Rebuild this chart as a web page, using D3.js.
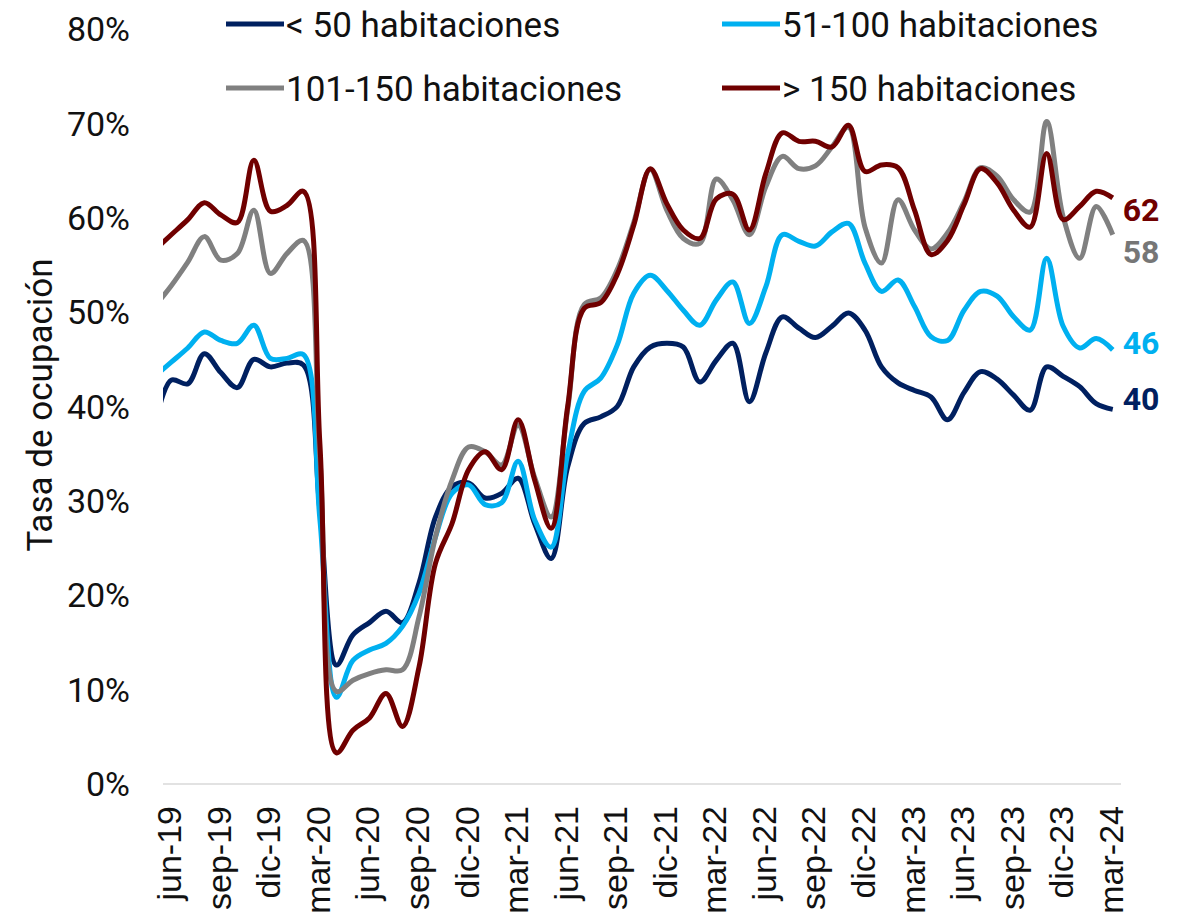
<!DOCTYPE html>
<html><head><meta charset="utf-8">
<script src="https://cdn.jsdelivr.net/npm/d3@7/dist/d3.min.js"></script>
<style>body{margin:0;background:#fff} svg{display:block}</style>
</head><body><svg id="c" width="1181" height="913"></svg>
<script>
const months = ["may-19","jun-19","jul-19","ago-19","sep-19","oct-19","nov-19","dic-19",
"ene-20","feb-20","mar-20","abr-20","may-20","jun-20","jul-20","ago-20","sep-20","oct-20","nov-20","dic-20",
"ene-21","feb-21","mar-21","abr-21","may-21","jun-21","jul-21","ago-21","sep-21","oct-21","nov-21","dic-21",
"ene-22","feb-22","mar-22","abr-22","may-22","jun-22","jul-22","ago-22","sep-22","oct-22","nov-22","dic-22",
"ene-23","feb-23","mar-23","abr-23","may-23","jun-23","jul-23","ago-23","sep-23","oct-23","nov-23","dic-23",
"ene-24","feb-24","mar-24"];
const tickLabels = ["jun-19","sep-19","dic-19","mar-20","jun-20","sep-20","dic-20","mar-21","jun-21","sep-21",
"dic-21","mar-22","jun-22","sep-22","dic-22","mar-23","jun-23","sep-23","dic-23","mar-24"];
const seriesNames = ["< 50 habitaciones","51-100 habitaciones","101-150 habitaciones","> 150 habitaciones"];
const seriesColors = ["#002060","#00B0F0","#808080","#700000"];
const labelColors = ["#002060","#00B0F0","#767676","#700000"];

const lt50 = [38.0,42.8,42.4,45.6,43.6,42.0,45.0,44.2,44.6,44.4,29.0,12.6,15.8,17.1,18.3,17.1,21.3,28.3,31.5,31.9,
30.3,30.8,32.4,27.6,23.9,33.6,38.2,38.9,40.0,44.2,46.3,46.7,46.3,42.6,44.9,46.7,40.5,45.7,49.5,48.3,
47.3,48.5,49.9,48.1,44.2,42.5,41.7,41.0,38.6,41.5,43.7,42.9,41.2,39.6,44.2,43.2,42.1,40.3,39.7];
const r51_100 = [43.2,44.7,46.2,47.9,47.0,46.7,48.6,45.1,45.1,45.5,28.0,9.2,13.1,14.2,14.9,16.7,20.2,26.2,30.8,31.7,
29.6,29.8,34.2,28.0,25.1,35.0,41.6,43.0,46.5,52.0,53.9,52.3,50.2,48.6,51.3,53.2,48.8,52.7,58.2,57.5,
57.0,58.5,59.4,55.2,52.2,53.4,50.6,47.4,47.0,50.2,52.2,51.7,49.5,48.1,55.7,48.5,46.2,47.2,46.0];
const r101_150 = [50.6,52.8,55.3,58.0,55.5,56.2,60.8,54.1,56.2,57.6,34.5,9.8,11.0,11.7,12.1,12.1,17.7,26.2,32.2,35.7,
35.2,33.8,38.0,32.5,28.3,39.7,50.8,51.5,54.5,59.5,65.1,60.8,57.8,57.3,64.1,61.9,58.2,63.3,66.5,65.2,
65.5,67.5,69.6,59.0,55.2,61.9,58.7,56.7,58.4,61.7,65.3,64.4,61.9,60.6,70.2,60.1,55.7,61.2,58.2];
const gt150 = [56.6,58.2,59.8,61.6,60.3,59.5,66.1,60.7,61.3,62.8,36.0,3.3,5.7,7.0,9.6,6.1,12.4,23.4,27.6,33.3,
35.2,33.3,38.6,32.2,27.1,40.0,50.4,51.0,54.0,59.2,65.2,61.5,58.7,57.8,62.0,62.5,58.7,64.7,69.0,68.1,
68.1,67.5,69.8,64.9,65.6,65.3,60.8,56.1,57.6,61.4,65.2,63.7,60.8,59.0,66.8,59.8,61.2,62.8,62.1];
const yTicks = [0,10,20,30,40,50,60,70,80];
const endLabels = ["40","46","58","62"];

const seriesValues = [lt50, r51_100, r101_150, gt150];

// layout / style
const L = {x0:163, x1:1121, y0:784, y1:29, font:"Roboto, 'Noto Sans', sans-serif"};
const labelNudge = [-11,-7,17,12];
const legendPos = [[226,24],[722,24],[226,88],[722,88]];

const svg = d3.select("#c");
const x = d3.scaleLinear().domain([0.5, months.length - 0.5]).range([L.x0, L.x1]);
const y = d3.scaleLinear().domain([0, 80]).range([L.y0, L.y1]);

svg.append("defs").append("clipPath").attr("id","plot")
  .append("rect").attr("x",L.x0).attr("y",0).attr("width",L.x1-L.x0).attr("height",L.y0+20);

// x axis line
svg.append("line").attr("x1",L.x0).attr("x2",L.x1).attr("y1",L.y0).attr("y2",L.y0)
  .attr("stroke","#d9d9d9").attr("stroke-width",1.5);

// y tick labels
svg.append("g").selectAll("text").data(yTicks).join("text")
  .attr("x",130).attr("y",d=>y(d)).attr("dy","0.36em")
  .attr("text-anchor","end").attr("font-family",L.font).attr("font-size",34)
  .attr("fill","#111").text(d=>d+"%");

// x tick labels
svg.append("g").selectAll("text").data(tickLabels).join("text")
  .attr("transform",d=>`translate(${x(months.indexOf(d))+10},806) rotate(-90)`)
  .attr("text-anchor","end").attr("font-family","'Liberation Sans', Arial, sans-serif").attr("font-size",34)
  .attr("fill","#111").text(d=>d);

// y title
svg.append("text").attr("transform","translate(52,405) rotate(-90)")
  .attr("text-anchor","middle").attr("font-family",L.font).attr("font-size",35)
  .attr("fill","#111").text("Tasa de ocupación");

// lines
const line = d3.line().x((d,i)=>x(i)).y(d=>y(d)).curve(d3.curveCatmullRom.alpha(0.5));
const g = svg.append("g").attr("clip-path","url(#plot)");
seriesValues.forEach((vals,k)=>{
  g.append("path").attr("d",line(vals)).attr("fill","none")
   .attr("stroke",seriesColors[k]).attr("stroke-width",5).attr("stroke-linejoin","round");
});
// end labels
seriesValues.forEach((vals,k)=>{
  svg.append("text").attr("x",x(vals.length-1)+10).attr("y",y(vals[vals.length-1])+labelNudge[k])
    .attr("dy","0.36em").attr("font-family",L.font).attr("font-weight","bold").attr("font-size",32)
    .attr("fill",labelColors[k]).text(endLabels[k]);
});

// legend
const lg = svg.append("g").selectAll("g").data(seriesNames).join("g")
  .attr("transform",(d,i)=>`translate(${legendPos[i][0]},${legendPos[i][1]})`);
lg.append("line").attr("x1",0).attr("x2",58).attr("y1",0).attr("y2",0)
  .attr("stroke",(d,i)=>seriesColors[i]).attr("stroke-width",5);
lg.append("text").attr("x",60).attr("dy","0.36em").attr("font-family",L.font).attr("font-size",35)
  .attr("fill","#111").text(d=>d);
</script></body></html>
